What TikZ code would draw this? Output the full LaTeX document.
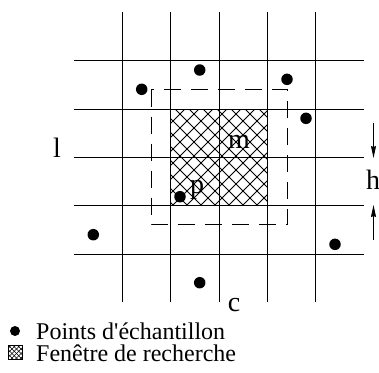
\documentclass[tikz,border=0pt]{standalone}
\usepackage{fontspec}
\setmainfont{Liberation Serif}
\usetikzlibrary{arrows.meta}
\tikzset{
  grid/.style={line width=1.1pt, black},
  dot/.style={circle, fill=black, inner sep=0pt, minimum size=11.5pt},
  lbl/.style={inner sep=0pt, font=\fontsize{24}{26}\selectfont},
  biglbl/.style={inner sep=0pt, font=\fontsize{28}{30}\selectfont},
  hatch/.style={line width=0.8pt},
  dashbox/.style={line width=1pt, dash pattern=on 17pt off 10pt},
  harrow/.style={line width=0.8pt, -{Stealth[length=12pt,width=5pt,inset=1pt]}},
}
\begin{document}
\begin{tikzpicture}[x=1pt,y=-1pt]
\useasboundingbox (0,0) rectangle (379,372);
% hatched window
\begin{scope}
  \clip (170.5,109.5) rectangle (267.5,205.5);
  \foreach \k in {40,54,...,420} {
    \draw[hatch] (\k,100) -- ++(120,120);
    \draw[hatch] (\k,100) -- ++(-120,120);
  }
\end{scope}
% grid
\foreach \x in {122.5,170.5,219.5,267.5,315.5}
  \draw[grid] (\x,12) -- (\x,302);
\foreach \y in {60.5,109.5,157.5,205.5,254.5}
  \draw[grid] (74,\y) -- (364,\y);
% dashed search window
\draw[dashbox] (151,89.5) rectangle (287.5,224.5);
% sample points
\node[dot] (d1) at (141.7,89.3) {};
\node[dot] (d2) at (199.7,70) {};
\node[dot] (d3) at (287,79.3) {};
\node[dot] (d4) at (306,118.3) {};
\node[dot] (d5) at (180,196.7) {};
\node[dot] (d6) at (93.3,234.7) {};
\node[dot] (d7) at (335,244.3) {};
\node[dot] (d8) at (199.7,282.7) {};
% labels
\node[biglbl, anchor=base] (l) at (57,157) {l};
\node[biglbl, anchor=base] (m) at (239,148) {m};
\node[biglbl, anchor=base] (p) at (197,193) {p};
\node[biglbl, anchor=base] (h) at (373,189) {h};
\node[biglbl, anchor=base] (c) at (234,311) {c};
% h arrows
\coordinate (a1s) at (373.5,123);
\coordinate (a1e) at (373.5,158);
\coordinate (a2s) at (373.5,240);
\coordinate (a2e) at (373.5,205);
\draw[harrow] (a1s) -- (a1e);
\draw[harrow] (a2s) -- (a2e);
% legend
\node[dot, minimum size=10pt] (ld) at (15,331) {};
\node[lbl, anchor=base west] (lt1) at (36,339) {Points d\textquotesingle échantillon};
\begin{scope}
  \clip (8,345) rectangle (22,359);
  \foreach \k in {-6,-1.5,...,40} {
    \draw[line width=0.6pt] (\k,340) -- ++(25,25);
    \draw[line width=0.6pt] (\k,340) -- ++(-25,25);
  }
\end{scope}
\node[draw, line width=0.7pt, inner sep=0pt, minimum size=14pt] (lb) at (15,352) {};
\node[lbl, anchor=base west] (lt2) at (36,361) {Fenêtre de recherche};
\end{tikzpicture}
\end{document}
